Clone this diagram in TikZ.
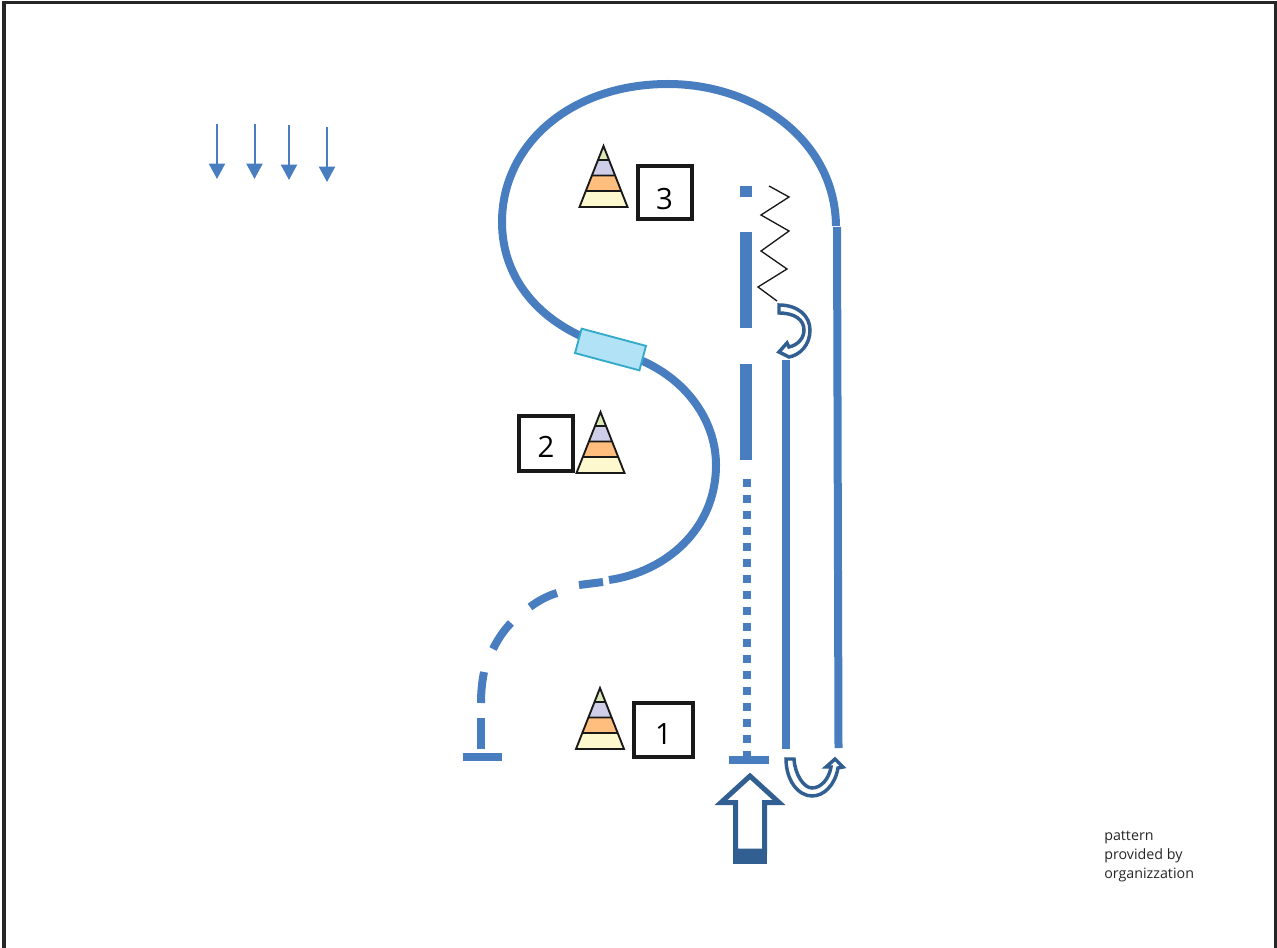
\documentclass[tikz,border=0pt]{standalone}
\usepackage{fontspec}
\setmainfont{Open Sans}
\usetikzlibrary{arrows.meta, calc}
\definecolor{lineblue}{RGB}{72,125,192}
\definecolor{darkblue}{RGB}{50,95,145}
\definecolor{gateedge}{RGB}{50,170,200}
\definecolor{gatefill}{RGB}{178,226,246}
\definecolor{conetop}{RGB}{218,232,184}
\definecolor{conelilac}{RGB}{206,206,232}
\definecolor{coneorange}{RGB}{255,190,125}
\definecolor{conebase}{RGB}{253,248,205}
\tikzset{
    % Course lines
    course/.style = {draw=lineblue, line width=6pt},
    wind/.style = {draw=lineblue, line width=1.5pt, -{Triangle[length=11.5pt, width=12pt]}},
    box/.style = {draw=black!90, line width=3pt, minimum width=40.5pt, minimum height=41pt, inner sep=0pt, text height=21pt, text depth=0pt, font=\fontsize{22}{24}\selectfont},
    note/.style = {font=\fontsize{10.7}{14}\selectfont, align=left, anchor=north west, inner sep=0pt, text=black!85},
    movefill/.style = {draw=darkblue, line width=2.6pt, fill=white, line join=miter},
    % Traffic cone
    cone/.pic = {
        \fill[conetop] (0,-61) -- (-5.7,-47) -- (5.7,-47) -- cycle;
        \fill[conelilac] (-5.7,-47) -- (-11.8,-31.5) -- (11.8,-31.5) -- (5.7,-47) -- cycle;
        \fill[coneorange] (-11.8,-31.5) -- (-17.9,-16) -- (17.9,-16) -- (11.8,-31.5) -- cycle;
        \fill[conebase] (-17.9,-16) -- (-24,0) -- (24,0) -- (17.9,-16) -- cycle;
        \draw[black!90, line width=1.4pt, line join=miter] (0,-61) -- (-24,0) -- (24,0) -- cycle
            (-5.7,-47) -- (5.7,-47) (-11.8,-31.5) -- (11.8,-31.5) (-17.9,-16) -- (17.9,-16);
    }
}
\begin{document}
\begin{tikzpicture}[x=0.75pt, y=-0.75pt]
    \useasboundingbox (0,0) rectangle (1277,948);

    % Frame
    \draw[black!85, line width=2.6pt] (4,948) -- (4,2.5) -- (1276,2.5) -- (1276,948);

    % Wind
    \draw[wind] (217,124) -- (217,179);
    \draw[wind] (254.5,124) -- (254.5,179);
    \draw[wind] (289,125) -- (289,180);
    \draw[wind] (327,127) -- (327,182);

    % Big loop
    \draw[course] (836,226) .. controls (835,140) and (755,84) .. (668,84)
        .. controls (570,84) and (502,145) .. (502,222)
        .. controls (502,275) and (535,318) .. (590,340);
    \draw[course] (630,356) .. controls (685,375) and (716,420) .. (716,465)
        .. controls (716,530) and (665,572) .. (609,580);
    % Broken part
    \draw[course] (603,582) -- (579,585);
    \draw[course] (557,593) .. controls (547,596) and (538,601) .. (530,607);
    \draw[course] (511,623) .. controls (504,630) and (498,639) .. (493,649);
    \draw[course] (484,672) .. controls (482,682) and (481,692) .. (481,703);
    \draw[course] (481,718) -- (481,749);
    \draw[course] (463,757) -- (502,757);

    % Gate
    \node (gate) [draw=gateedge, line width=1.4pt, fill=gatefill, rotate=-15, minimum width=50pt, minimum height=19pt, inner sep=0pt] at (610.5,349.5) {};

    % Centre line
    \draw[course, line width=9pt] (746,186) -- (746,197);
    \draw[course, line width=9pt] (746,232) -- (746,328);
    \draw[course, line width=9pt] (746,364) -- (746,460);
    \foreach \yy in {479,495,...,751} {
        \draw[course] (746.5,\yy) -- (746.5,\yy+8);
    }
    \draw[course] (729,759.5) -- (769,759.5);

    % Long legs
    \draw[course] (785.5,360) -- (785.5,749);
    \draw[course] (837,227) -- (838.5,748);

    % Zigzag
    \draw[black!90, line width=1pt] (769,186) -- (789,197) -- (761,215) -- (789,231) -- (761,251) -- (787,269) -- (758,287) -- (777,301);

    % Turn arrows
    \draw[movefill] (779,305) .. controls (798,305) and (810,316) .. (810,330)
        .. controls (810,345) and (800,355) .. (789,357) -- (779,352) -- (787,343) -- (789,347)
        .. controls (798,345) and (804,338) .. (804,330)
        .. controls (804,320) and (795,313) .. (779,313) -- cycle;
    \draw[movefill] (786,759) -- (794,759) .. controls (795,775) and (804,788) .. (812,788)
        .. controls (821,788) and (829,779) .. (831,767) -- (826,767) -- (835,759) -- (843,767) -- (838,768)
        .. controls (835,785) and (824,796) .. (812,796)
        .. controls (798,796) and (786,780) .. (786,759) -- cycle;

    % Start arrow
    \draw[movefill, line width=3.75pt] (750,776) -- (779,802.5) -- (764.5,802.5) -- (764.5,851) -- (735.5,851) -- (735.5,802.5) -- (721,802.5) -- cycle;
    \fill[darkblue] (733,850) rectangle (767,864);

    % Cones and numbers
    \pic at (603.5,207) {cone};
    \pic at (600.5,473) {cone};
    \pic at (600,749) {cone};
    \node (box3) [box, minimum height=39.5pt, text height=25pt] at (664.5,192.5) {3};
    \node (box2) [box] at (546,443.5) {2};
    \node (box1) [box, minimum width=44pt] at (663.5,730) {1};

    \node (note) [note] at (1104,831) {pattern\\provided by\\organizzation};
\end{tikzpicture}
\end{document}
